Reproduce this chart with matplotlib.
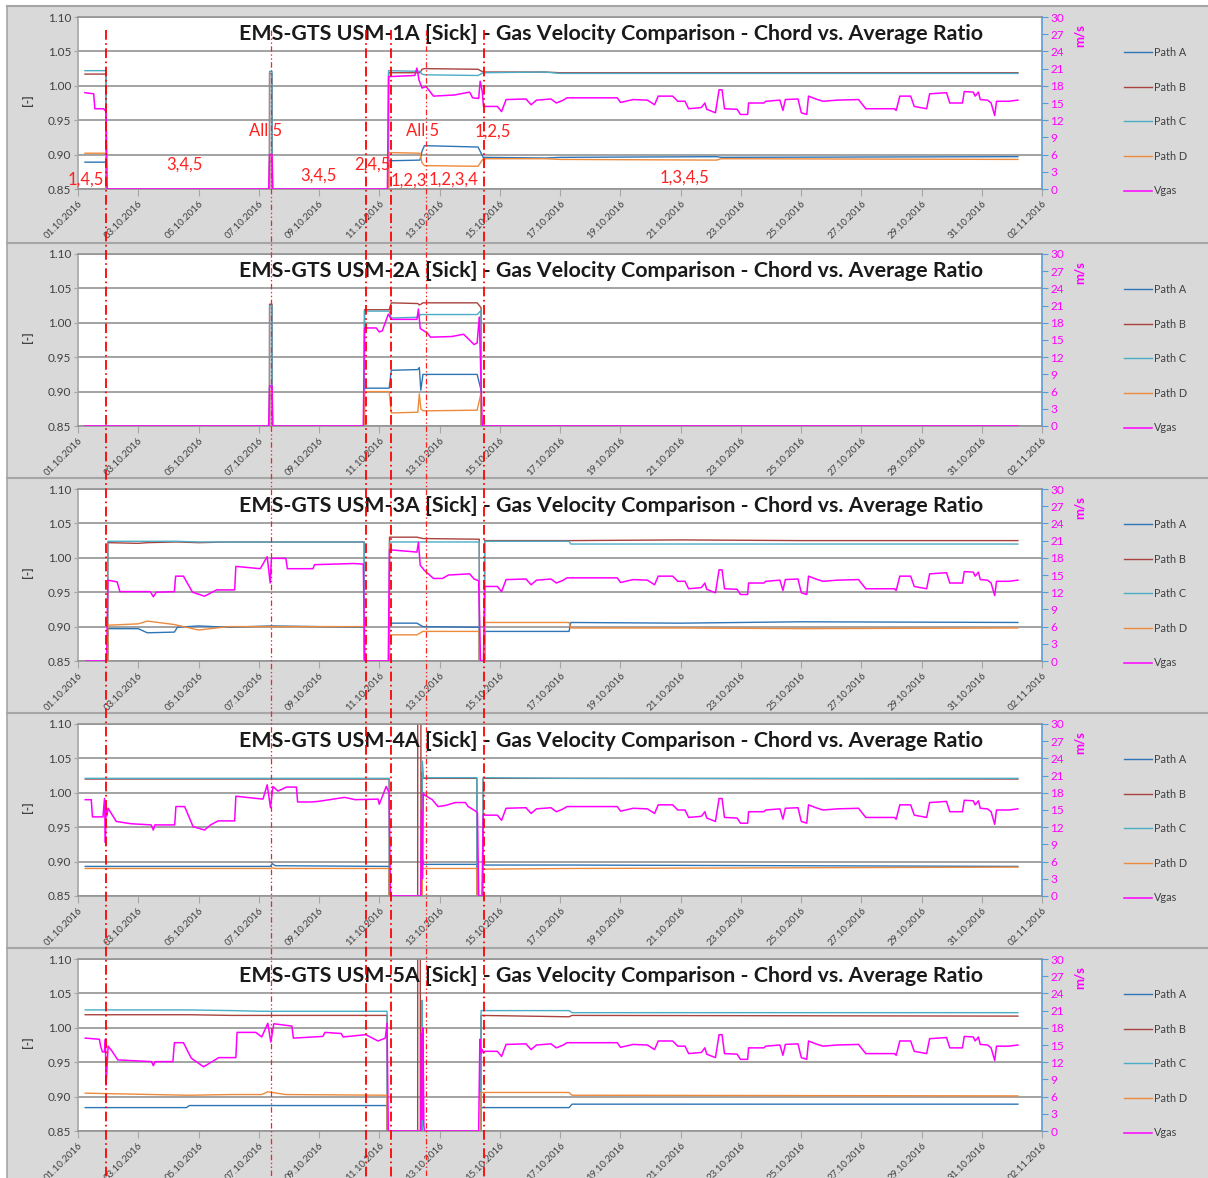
import numpy as np
import matplotlib
matplotlib.use('Agg')
import matplotlib.pyplot as plt
from matplotlib.lines import Line2D
from matplotlib import transforms

plt.rcParams['font.family'] = ['Lato', 'DejaVu Sans']
plt.rcParams['lines.scale_dashes'] = False

# ---- axis labels ----
tick_days = list(range(0, 33, 2))
date_labels = ['01.10.2016', '03.10.2016', '05.10.2016', '07.10.2016', '09.10.2016',
               '11.10.2016', '13.10.2016', '15.10.2016', '17.10.2016', '19.10.2016',
               '21.10.2016', '23.10.2016', '25.10.2016', '27.10.2016', '29.10.2016',
               '31.10.2016', '02.11.2016']
meters = ['USM-1A', 'USM-2A', 'USM-3A', 'USM-4A', 'USM-5A']
series_names = ['Path A', 'Path B', 'Path C', 'Path D', 'Vgas']

# ---- USM-1A ----
p1_t = [0.23, 0.93, 0.97, 6.33, 6.36, 6.44, 6.47, 10.27, 10.31, 11.35, 11.42, 11.50,
        13.28, 13.45, 15.50, 16.00, 21.20, 21.35, 31.20]
p1_a = [0.889, 0.889, 0, 0, 0.890, 0.890, 0, 0, 0.891, 0.892, 0.905, 0.913,
        0.911, 0.896, 0.895, 0.896, 0.897, 0.896, 0.897]
p1_b = [1.017, 1.017, 0, 0, 1.018, 1.018, 0, 0, 1.019, 1.019, 1.024, 1.025,
        1.024, 1.020, 1.020, 1.019, 1.019, 1.019, 1.019]
p1_c = [1.022, 1.022, 0, 0, 1.021, 1.021, 0, 0, 1.022, 1.021, 1.017, 1.016,
        1.015, 1.019, 1.020, 1.018, 1.018, 1.018, 1.018]
p1_d = [0.902, 0.902, 0, 0, 0.900, 0.900, 0, 0, 0.903, 0.902, 0.888, 0.884,
        0.883, 0.894, 0.894, 0.893, 0.892, 0.894, 0.893]
v1_early_t = [0.23, 0.52, 0.56, 0.85, 0.93, 0.97, 6.33, 6.36, 6.44, 6.47, 10.27, 10.31,
              11.18, 11.25, 11.32, 11.42, 11.55, 11.8, 12.5, 13.0, 13.1, 13.3, 13.35,
              13.42, 13.46]
v1_early = [16.8, 16.6, 14.0, 14.0, 13.5, 0, 0, 6.0, 6.0, 0, 0, 19.6,
            19.8, 21.1, 19.0, 17.6, 17.9, 16.2, 16.4, 16.9, 15.9, 15.8, 18.8,
            17.0, 14.4]

# common time stamps of the second half of the month (Vgas)
late_t = [13.50, 13.92, 14.06, 14.21, 14.87, 15.04, 15.22, 15.70, 15.88, 16.11,
          16.23, 17.90, 18.01, 18.43, 18.90, 19.14, 19.26, 19.74, 19.91, 20.15,
          20.27, 20.69, 20.81, 20.87, 21.16, 21.28, 21.38, 21.46, 21.88, 21.99,
          22.23, 22.26, 22.77, 22.83, 23.30, 23.40, 23.48, 23.90, 24.01, 24.19,
          24.25, 24.49, 24.73, 25.20, 25.91, 26.15, 27.10, 27.16, 27.28, 27.64,
          27.76, 28.17, 28.27, 28.83, 28.94, 29.36, 29.42, 29.72, 29.78, 29.89,
          29.95, 30.19, 30.31, 30.43, 30.49, 30.90, 31.20]
v1_late = [14.4, 14.4, 13.5, 15.6, 15.7, 14.7, 15.5, 15.7, 15.0, 15.5,
           15.9, 15.9, 15.1, 15.6, 15.5, 14.7, 16.2, 16.2, 15.3, 15.3,
           14.0, 14.2, 15.0, 13.9, 13.3, 17.3, 17.3, 14.0, 13.9, 13.0,
           13.0, 15.0, 15.0, 15.3, 15.5, 13.7, 15.6, 15.7, 13.3, 13.0,
           16.2, 15.7, 15.3, 15.5, 15.6, 14.0, 14.0, 13.7, 16.2, 16.2,
           14.4, 14.0, 16.6, 16.8, 15.0, 15.0, 17.0, 16.9, 16.2, 16.9,
           15.6, 15.5, 15.0, 12.8, 15.3, 15.3, 15.5]

# ---- USM-2A ----
p2_t = [0.23, 6.33, 6.36, 6.44, 6.47, 9.47, 9.51, 10.33, 10.40, 11.28, 11.33, 11.38,
        11.45, 13.25, 13.38, 13.42, 31.2]
p2_a = [0, 0, 0.895, 0.895, 0, 0, 0.905, 0.905, 0.931, 0.932, 0.935, 0.902,
        0.925, 0.925, 0.902, 0, 0]
p2_b = [0, 0, 1.027, 1.027, 0, 0, 1.019, 1.019, 1.029, 1.028, 1.026, 1.027,
        1.029, 1.029, 1.022, 0, 0]
p2_c = [0, 0, 1.025, 1.025, 0, 0, 1.017, 1.017, 1.007, 1.008, 1.010, 1.012,
        1.012, 1.012, 1.018, 0, 0]
p2_d = [0, 0, 0.900, 0.900, 0, 0, 0.900, 0.900, 0.869, 0.870, 0.897, 0.875,
        0.872, 0.873, 0.898, 0, 0]
v2_t = [0.23, 6.33, 6.36, 6.44, 6.47, 9.47, 9.51, 9.9, 10.0, 10.1, 10.3, 10.4,
        11.25, 11.3, 11.36, 11.6, 11.7, 12.4, 12.8, 13.15, 13.25, 13.32, 13.42, 31.2]
v2 = [0, 0, 7.0, 7.0, 0, 0, 17.1, 17.1, 16.4, 16.6, 19.5, 18.6,
      18.6, 20.4, 17.0, 16.2, 15.5, 15.6, 16.0, 14.2, 14.5, 19.0, 0, 0]

# ---- USM-3A ----
p3_t = [0.27, 0.95, 0.99, 2.0, 2.3, 3.2, 3.3, 4.0, 5.0, 6.4, 9.50, 9.54, 10.30,
        10.34, 11.25, 11.45, 13.32, 13.36, 13.46, 13.50, 16.30, 16.36, 20.0, 24.0, 31.2]
p3_a = [0, 0, 0.897, 0.897, 0.891, 0.892, 0.899, 0.901, 0.899, 0.901, 0.899, 0, 0,
        0.905, 0.905, 0.900, 0.899, 0, 0, 0.893, 0.893, 0.906, 0.905, 0.907, 0.906]
p3_b = [0, 0, 1.022, 1.021, 1.022, 1.023, 1.023, 1.022, 1.023, 1.023, 1.023, 0, 0,
        1.030, 1.030, 1.028, 1.027, 0, 0, 1.025, 1.025, 1.025, 1.026, 1.025, 1.025]
p3_c = [0, 0, 1.024, 1.024, 1.024, 1.024, 1.024, 1.023, 1.023, 1.023, 1.023, 0, 0,
        1.023, 1.023, 1.023, 1.023, 0, 0, 1.024, 1.024, 1.020, 1.020, 1.020, 1.020]
p3_d = [0, 0, 0.902, 0.904, 0.908, 0.903, 0.902, 0.895, 0.900, 0.900, 0.900, 0, 0,
        0.888, 0.888, 0.893, 0.893, 0, 0, 0.906, 0.906, 0.898, 0.898, 0.897, 0.898]
v3_early_t = [0.27, 0.95, 0.99, 1.3, 1.39, 2.4, 2.5, 2.6, 3.2, 3.24, 3.5, 3.8, 4.2,
              4.6, 5.2, 5.24, 6.05, 6.28, 6.38, 6.42, 6.5, 6.9, 6.95, 7.8, 7.85,
              9.14, 9.47, 9.52, 10.30, 10.34, 11.25, 11.30, 11.36, 11.5, 11.8, 12.1,
              12.3, 13.0, 13.15, 13.30, 13.36, 13.46]
v3_early = [0, 0, 14.1, 13.8, 12.1, 12.1, 11.2, 12.0, 12.1, 14.8, 14.8, 12.0, 11.3,
            12.4, 12.4, 16.5, 16.1, 18.2, 13.6, 17.9, 17.9, 17.9, 16.1, 16.1, 16.8,
            17.0, 16.9, 0, 0, 19.4, 19.0, 20.7, 16.7, 15.8, 14.4, 14.4,
            15.0, 15.2, 14.3, 14.0, 0, 0]
v3_late = [13.0, 13.0, 12.1, 14.2, 14.3, 13.3, 14.1, 14.3, 13.6, 14.1,
           14.5, 14.5, 13.7, 14.2, 14.1, 13.3, 14.8, 14.8, 13.9, 13.9,
           12.6, 12.8, 13.6, 12.5, 11.9, 15.9, 15.9, 12.6, 12.5, 11.6,
           11.6, 13.6, 13.6, 13.9, 14.1, 12.3, 14.2, 14.3, 11.9, 11.6,
           14.8, 14.3, 13.9, 14.1, 14.2, 12.6, 12.6, 12.3, 14.8, 14.8,
           13.0, 12.6, 15.2, 15.4, 13.6, 13.6, 15.6, 15.5, 14.8, 15.5,
           14.2, 14.1, 13.6, 11.4, 13.9, 13.9, 14.1]

# ---- USM-4A ----
p4_t = [0.24, 6.38, 6.45, 6.55, 10.33, 10.37, 11.27, 11.28, 11.38, 11.39, 11.43,
        11.47, 11.55, 13.24, 13.28, 13.41, 13.45, 16.35, 31.2]
p4_a = [0.893, 0.893, 0.897, 0.894, 0.893, 0, 0, 0, 0, 0, 0.905,
        0.896, 0.896, 0.896, 0, 0, 0.895, 0.895, 0.893]
p4_b = [1.020, 1.020, 1.020, 1.020, 1.020, 0, 0, 1.5, 1.5, 0, 1.030,
        1.021, 1.021, 1.021, 0, 0, 1.021, 1.021, 1.020]
p4_c = [1.021, 1.021, 1.021, 1.021, 1.021, 0, 0, 0, 0, 0, 1.046,
        1.022, 1.022, 1.022, 0, 0, 1.022, 1.021, 1.021]
p4_d = [0.890, 0.890, 0.891, 0.890, 0.890, 0, 0, 0, 0, 0, 0.890,
        0.890, 0.890, 0.890, 0, 0, 0.889, 0.890, 0.892]
v4_early_t = [0.24, 0.44, 0.48, 0.83, 0.88, 0.91, 0.93, 0.96, 1.0, 1.27, 1.77, 2.43,
              2.5, 2.55, 3.21, 3.25, 3.54, 3.82, 4.2, 4.4, 4.65, 5.2, 5.24, 6.14,
              6.28, 6.39, 6.47, 6.64, 6.92, 7.25, 7.29, 7.75, 7.97, 8.85, 9.2, 9.96,
              10.0, 10.23, 10.33, 10.37, 11.38, 11.40, 11.44, 11.46, 11.50, 11.76,
              11.95, 12.2, 12.53, 12.86, 12.95, 13.2, 13.26, 13.30, 13.41, 13.45]
v4_early = [16.8, 16.8, 13.8, 13.8, 17.0, 9.3, 15.3, 14.0, 15.3, 13.0, 12.6, 12.4,
            11.5, 12.4, 12.4, 15.6, 15.6, 12.1, 11.5, 12.4, 13.1, 13.1, 17.4, 16.9,
            19.4, 15.4, 19.1, 18.3, 19.0, 19.0, 16.4, 16.4, 16.5, 17.2, 16.8, 16.9,
            16.0, 19.1, 18.0, 0, 0, 15.0, 3.0, 18.0, 17.6, 16.8,
            15.6, 15.8, 16.3, 16.3, 15.6, 14.8, 14.5, 0, 0, 14.1]
v4_late = [14.1, 14.1, 13.2, 15.3, 15.4, 14.4, 15.2, 15.4, 14.7, 15.2,
           15.6, 15.6, 14.8, 15.3, 15.2, 14.4, 15.9, 15.9, 15.0, 15.0,
           13.7, 13.9, 14.7, 13.6, 13.0, 17.0, 17.0, 13.7, 13.6, 12.7,
           12.7, 14.7, 14.7, 15.0, 15.2, 13.4, 15.3, 15.4, 13.0, 12.7,
           15.9, 15.4, 15.0, 15.2, 15.3, 13.7, 13.7, 13.4, 15.9, 15.9,
           14.1, 13.7, 16.3, 16.5, 14.7, 14.7, 16.7, 16.6, 15.9, 16.6,
           15.3, 15.2, 14.7, 12.5, 15.0, 15.0, 15.2]

# ---- USM-5A ----
p5_t = [0.24, 3.6, 3.7, 5.1, 6.1, 6.3, 6.9, 10.26, 10.30, 11.27, 11.28, 11.36, 11.37,
        11.40, 11.42, 11.46, 13.32, 13.38, 16.30, 16.40, 31.2]
p5_a = [0.884, 0.884, 0.887, 0.887, 0.887, 0.887, 0.887, 0.887, 0, 0, 0, 0, 0,
        0, 0, 0, 0, 0.884, 0.884, 0.889, 0.889]
p5_b = [1.019, 1.019, 1.019, 1.018, 1.018, 1.018, 1.018, 1.018, 0, 0, 1.5, 1.5, 0,
        0, 0, 0, 0, 1.018, 1.016, 1.018, 1.017]
p5_c = [1.026, 1.026, 1.026, 1.025, 1.024, 1.024, 1.024, 1.024, 0, 0, 0, 0, 0,
        0, 1.040, 0, 0, 1.025, 1.025, 1.022, 1.022]
p5_d = [0.905, 0.902, 0.902, 0.903, 0.903, 0.907, 0.903, 0.902, 0, 0, 0, 0, 0,
        0, 0, 0, 0, 0.906, 0.906, 0.902, 0.901]
v5_early_t = [0.24, 0.71, 0.75, 0.81, 0.88, 0.91, 0.93, 1.0, 1.12, 1.32, 2.44, 2.5,
              2.56, 3.15, 3.2, 3.5, 3.76, 4.17, 4.67, 5.24, 5.28, 5.9, 6.1, 6.3, 6.4,
              6.5, 7.1, 7.15, 8.13, 8.2, 8.74, 8.8, 9.55, 9.96, 10.2, 10.26, 10.30,
              11.38, 11.40, 11.43, 11.45, 11.48, 11.50, 13.30, 13.34, 13.38, 13.42, 13.46]
v5_early = [16.2, 16.0, 14.8, 13.8, 13.8, 16.0, 8.0, 14.8, 14.0, 12.4, 12.1, 11.4,
            12.1, 12.1, 15.4, 15.4, 12.7, 11.2, 12.8, 12.8, 17.2, 17.2, 16.4, 18.8, 15.5,
            18.7, 18.3, 16.2, 16.5, 17.2, 17.0, 16.4, 16.8, 15.7, 16.2, 18.8, 0,
            0, 17.0, 2.0, 18.0, 1.0, 0, 0, 16.0, 13.6, 14.2, 13.6]
v5_late = [13.9, 13.9, 13.0, 15.1, 15.2, 14.2, 15.0, 15.2, 14.5, 15.0,
           15.4, 15.4, 14.6, 15.1, 15.0, 14.2, 15.7, 15.7, 14.8, 14.8,
           13.5, 13.7, 14.5, 13.4, 12.8, 16.8, 16.8, 13.5, 13.4, 12.5,
           12.5, 14.5, 14.5, 14.8, 15.0, 13.2, 15.1, 15.2, 12.8, 12.5,
           15.7, 15.2, 14.8, 15.0, 15.1, 13.5, 13.5, 13.2, 15.7, 15.7,
           13.9, 13.5, 16.1, 16.3, 14.5, 14.5, 16.5, 16.4, 15.7, 16.4,
           15.1, 15.0, 14.5, 12.3, 14.8, 14.8, 15.0]

# dates of the meter changes marked across all charts
event_days = [0.93, 6.41, 9.57, 10.39, 11.56, 13.48]
event_thick = [True, False, True, True, False, True]

# status notes on the first chart
note_text = ['1,4,5', '3,4,5', 'All 5', '3,4,5', '2,4,5', '1,2,3', 'All 5', '1,2,3,4', '1,2,5', '1,3,4,5']
note_day = [0.27, 3.55, 6.24, 7.97, 9.76, 10.99, 11.45, 12.48, 13.78, 20.12]
note_val = [0.864, 0.886, 0.934, 0.869, 0.885, 0.862, 0.934, 0.863, 0.934, 0.867]

panels = [
    (p1_t, [p1_a, p1_b, p1_c, p1_d], v1_early_t + late_t, v1_early + v1_late),
    (p2_t, [p2_a, p2_b, p2_c, p2_d], v2_t, v2),
    (p3_t, [p3_a, p3_b, p3_c, p3_d], v3_early_t + late_t, v3_early + v3_late),
    (p4_t, [p4_a, p4_b, p4_c, p4_d], v4_early_t + late_t, v4_early + v4_late),
    (p5_t, [p5_a, p5_b, p5_c, p5_d], v5_early_t + late_t, v5_early + v5_late),
]

colors = ['#2E75B6', '#A8433F', '#4BACC6', '#EE8A3C', '#FF00FF']
grid_col = '#949494'
txt_col = '#404040'

W, H = 1208, 1178
fig = plt.figure(figsize=(W / 100, H / 100), dpi=100)
fig.patch.set_facecolor('#d9d9d9')


def fx(x):
    return x / W


def fy(y):
    return 1 - y / H


# sheet margin and chart borders
fig.add_artist(plt.Rectangle((0, 0), fx(7), 1, transform=fig.transFigure,
                             facecolor='white', edgecolor='none', zorder=0))
fig.add_artist(plt.Rectangle((0, fy(6)), 1, 6 / H, transform=fig.transFigure,
                             facecolor='white', edgecolor='none', zorder=0))
fig.add_artist(Line2D([fx(7.5), fx(7.5)], [0, fy(6)], transform=fig.transFigure,
                      color='#a6a6a6', lw=1.2))

plot_tops = [17, 254, 489, 724, 959]
plot_h = 172
x_left, x_right = 78, 1042

axes = []
for k, (pt, paths, vt, vg) in enumerate(panels):
    top = plot_tops[k]
    fig.add_artist(Line2D([fx(7), 1], [fy(top - 11), fy(top - 11)],
                          transform=fig.transFigure, color='#a6a6a6', lw=1.5))
    ax = fig.add_axes([fx(x_left), fy(top + plot_h), (x_right - x_left) / W, plot_h / H])
    ax.set_facecolor('white')
    for vals, c, name in zip(paths, colors[:4], series_names[:4]):
        ax.plot(pt, vals, color=c, lw=1.0, label=name)
    ax.set_xlim(0, 32)
    ax.set_ylim(0.85, 1.10)
    ax.set_yticks(np.arange(0.85, 1.101, 0.05))
    ax.yaxis.set_major_formatter(matplotlib.ticker.FormatStrFormatter('%.2f'))
    ax.yaxis.grid(True, color=grid_col, lw=1.2)
    ax.set_axisbelow(True)
    ax.set_xticks(tick_days)
    ax.set_xticklabels(date_labels, rotation=45, ha='right', rotation_mode='anchor')
    ax.tick_params(axis='x', direction='out', length=5, color='#a6a6a6',
                   labelsize=7, labelcolor=txt_col, pad=2)
    ax.tick_params(axis='y', direction='out', length=3, color='#a6a6a6',
                   labelsize=8.5, labelcolor=txt_col, pad=2)
    for s in ['left', 'bottom', 'top']:
        ax.spines[s].set_color(grid_col)
        ax.spines[s].set_linewidth(1.2)
    ax.spines['left'].set_color('#a6a6a6')
    ax.spines['right'].set_visible(False)

    ax2 = ax.twinx()
    ax2.plot(vt, vg, color=colors[4], lw=1.1, label=series_names[4])
    ax2.set_ylim(0, 30)
    ax2.set_yticks(range(0, 31, 3))
    ax2.tick_params(axis='y', direction='out', length=4, color='#5B9BD5',
                    labelsize=8.5, labelcolor='#FF00FF', pad=2)
    for s in ['left', 'bottom', 'top']:
        ax2.spines[s].set_visible(False)
    ax2.spines['right'].set_color('#5B9BD5')
    ax2.spines['right'].set_linewidth(1.2)

    fig.text(fx(611), fy(top + 17), 'EMS-GTS %s [Sick] - Gas Velocity Comparison - '
             'Chord vs. Average Ratio' % meters[k], ha='center', va='center',
             fontsize=15.4, fontweight='bold', color='#1a1a1a')
    fig.text(fx(28), fy(top + 83), '[-]', rotation=90, ha='center', va='center',
             fontsize=8.5, fontweight='bold', color=txt_col)
    fig.text(fx(1080), fy(top + 19), 'm/s', rotation=90, ha='center', va='center',
             fontsize=9.5, fontweight='bold', color='#FF00FF')

    handles = ax.get_lines() + ax2.get_lines()
    ax2.legend(handles, series_names, loc='upper left',
               bbox_to_anchor=(fx(1124), fy(top + 30)), bbox_transform=fig.transFigure,
               frameon=False, fontsize=7.8, labelspacing=2.18, handlelength=2.6,
               handletextpad=0.15, borderpad=0, borderaxespad=0, labelcolor=txt_col)
    axes.append((ax, ax2))

# notes on the first chart
ax, ax2 = axes[0]
for s, d, v in zip(note_text, note_day, note_val):
    ax2.text(d, v, s, transform=ax.transData, ha='center', va='center',
             fontsize=12, color='#FF2020', zorder=5)

# event markers running through all charts
blend = transforms.blended_transform_factory(axes[0][0].transData, fig.transFigure)
for d, thick in zip(event_days, event_thick):
    if thick:
        fig.add_artist(Line2D([d, d], [fy(30), 0], transform=blend, color='#FF0000',
                              lw=1.3, linestyle=(0, (7, 2.5, 1.2, 2.5)), zorder=6))
    else:
        fig.add_artist(Line2D([d, d], [fy(30), 0], transform=blend, color='#FF2020',
                              lw=0.9, linestyle=(0, (4, 1.8, 1, 1.8, 1, 1.8)), zorder=6))

fig.savefig('out.png', dpi=100, facecolor=fig.get_facecolor())
